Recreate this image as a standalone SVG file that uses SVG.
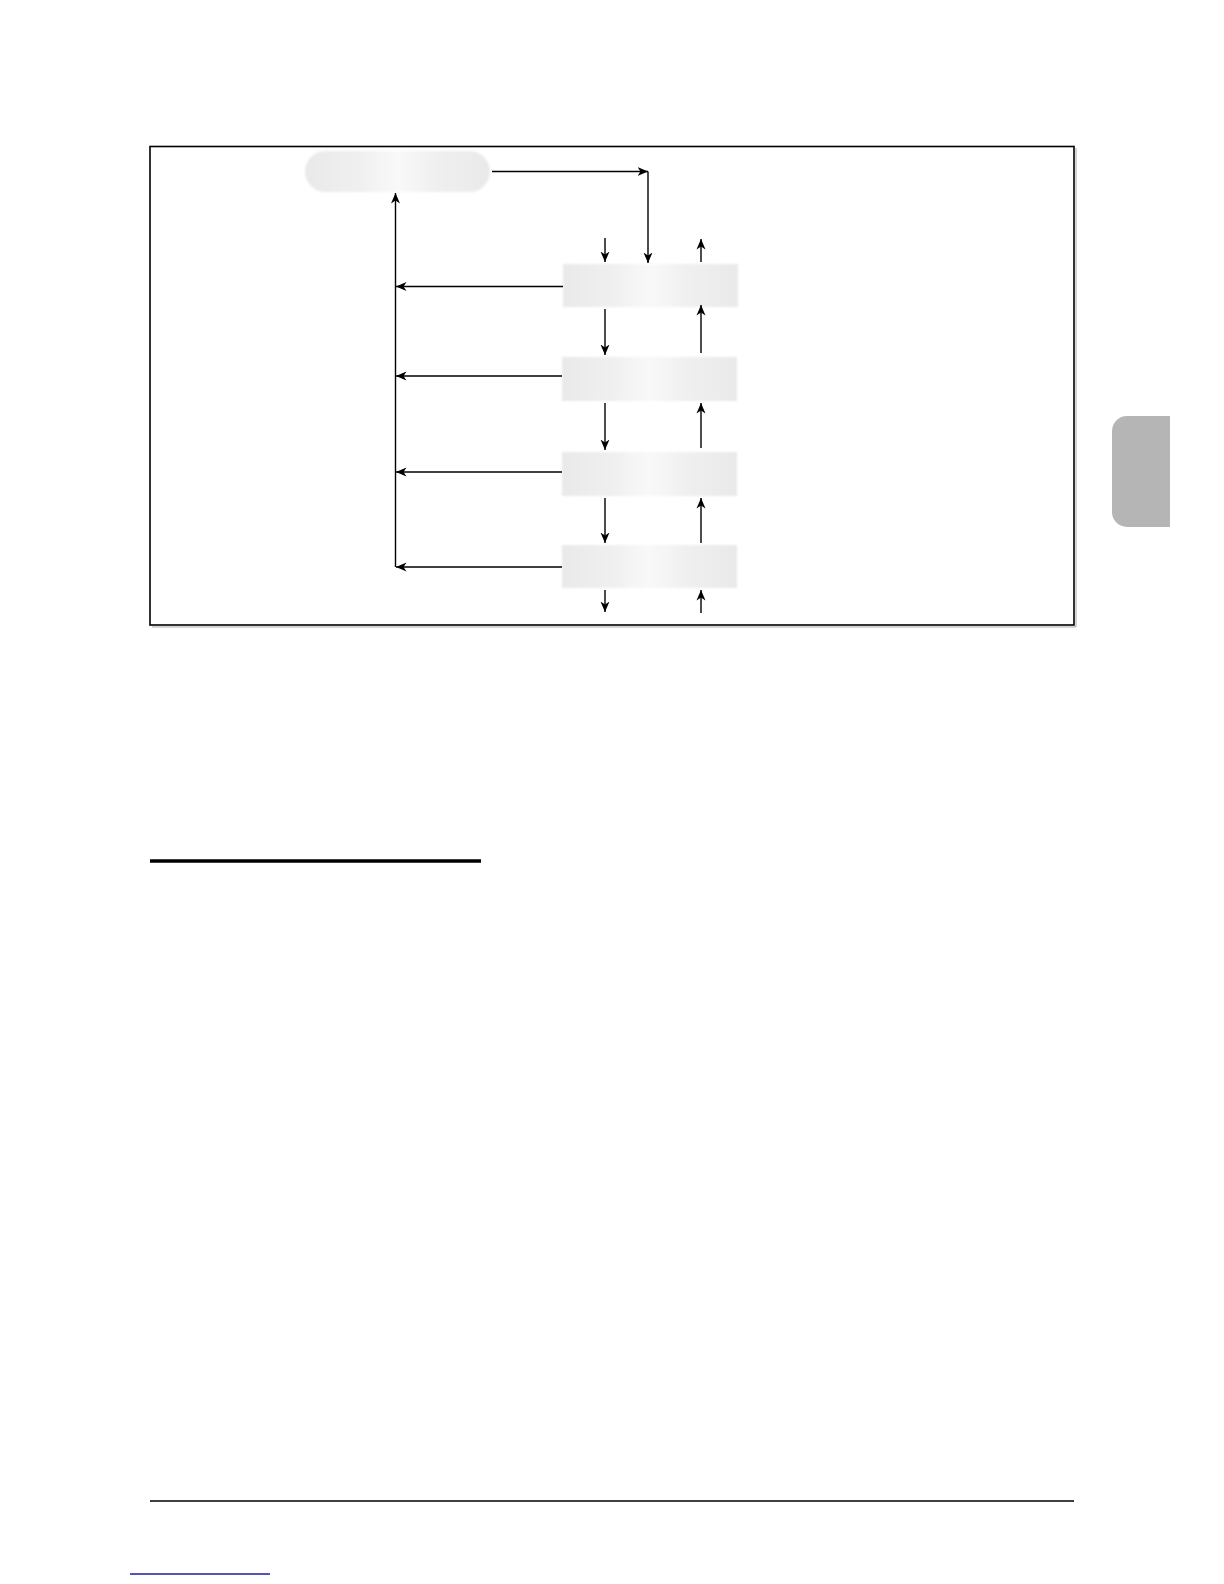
<svg xmlns="http://www.w3.org/2000/svg" width="1224" height="1584" viewBox="0 0 1224 1584">
<style>
.conn{stroke:#000;stroke-width:1.4;fill:none;marker-end:url(#ah)}
.node{fill:url(#boxg);filter:url(#soft)}
</style>
<defs>
<marker id="ah" markerWidth="12" markerHeight="10" refX="10.5" refY="5" orient="auto" markerUnits="userSpaceOnUse">
<path d="M0,0.5 L10.5,5 L0,9.5 L3,5 z" fill="#000"/>
</marker>
<linearGradient id="boxg" x1="0" y1="0" x2="1" y2="0">
<stop offset="0" stop-color="#e9e9e9"/>
<stop offset="0.3" stop-color="#f0f0f0"/>
<stop offset="0.5" stop-color="#f9f9f9"/>
<stop offset="0.7" stop-color="#f0f0f0"/>
<stop offset="1" stop-color="#e9e9e9"/>
</linearGradient>
<filter id="soft" x="-5%" y="-10%" width="110%" height="120%">
<feGaussianBlur stdDeviation="1"/>
</filter>
</defs>
<rect width="1224" height="1584" fill="#fff"/>

<g id="frame">
<line x1="1076" y1="148" x2="1076" y2="627" stroke="#aaa" stroke-width="1"/>
<line x1="152" y1="627" x2="1076" y2="627" stroke="#aaa" stroke-width="1"/>
<rect x="150" y="146.5" width="924" height="478.5" fill="none" stroke="#000" stroke-width="1.6"/>
</g>

<g id="node-top"><rect class="node" x="305" y="151" width="185" height="41" rx="20.5"/></g>
<g id="node-1"><rect class="node" x="563" y="264" width="175" height="43"/></g>
<g id="node-2"><rect class="node" x="562" y="357" width="175" height="44"/></g>
<g id="node-3"><rect class="node" x="562" y="452" width="175" height="44"/></g>
<g id="node-4"><rect class="node" x="562" y="545" width="175" height="43"/></g>

<g id="connectors">
<line class="conn" x1="492" y1="171.5" x2="648" y2="171.5"/>
<line class="conn" x1="648" y1="171.5" x2="648" y2="263"/>
<line class="conn" x1="395.5" y1="567" x2="395.5" y2="193"/>
<line class="conn" x1="563" y1="286.5" x2="396" y2="286.5"/>
<line class="conn" x1="562" y1="376" x2="396" y2="376"/>
<line class="conn" x1="562" y1="472" x2="396" y2="472"/>
<line class="conn" x1="562" y1="567" x2="396" y2="567"/>
<line class="conn" x1="605" y1="238" x2="605" y2="262"/>
<line class="conn" x1="605" y1="309" x2="605" y2="355"/>
<line class="conn" x1="605" y1="403" x2="605" y2="450"/>
<line class="conn" x1="605" y1="498" x2="605" y2="543"/>
<line class="conn" x1="605" y1="590" x2="605" y2="612"/>
<line class="conn" x1="701" y1="262" x2="701" y2="239"/>
<line class="conn" x1="701" y1="353" x2="701" y2="305"/>
<line class="conn" x1="701" y1="448" x2="701" y2="403"/>
<line class="conn" x1="701" y1="543" x2="701" y2="498"/>
<line class="conn" x1="701" y1="613" x2="701" y2="590"/>
</g>

<g id="tab"><path d="M1127,416 H1170 V527 H1127 A15,15 0 0 1 1112,512 V431 A15,15 0 0 1 1127,416 z" fill="#b5b5b5"/></g>

<g id="rules">
<line x1="150" y1="861" x2="481" y2="861" stroke="#000" stroke-width="3.5"/>
<line x1="150" y1="1501" x2="1074" y2="1501" stroke="#000" stroke-width="1.5"/>
<line x1="130" y1="1574" x2="270" y2="1574" stroke="#1a1aa0" stroke-width="1.5"/>
</g>
</svg>
